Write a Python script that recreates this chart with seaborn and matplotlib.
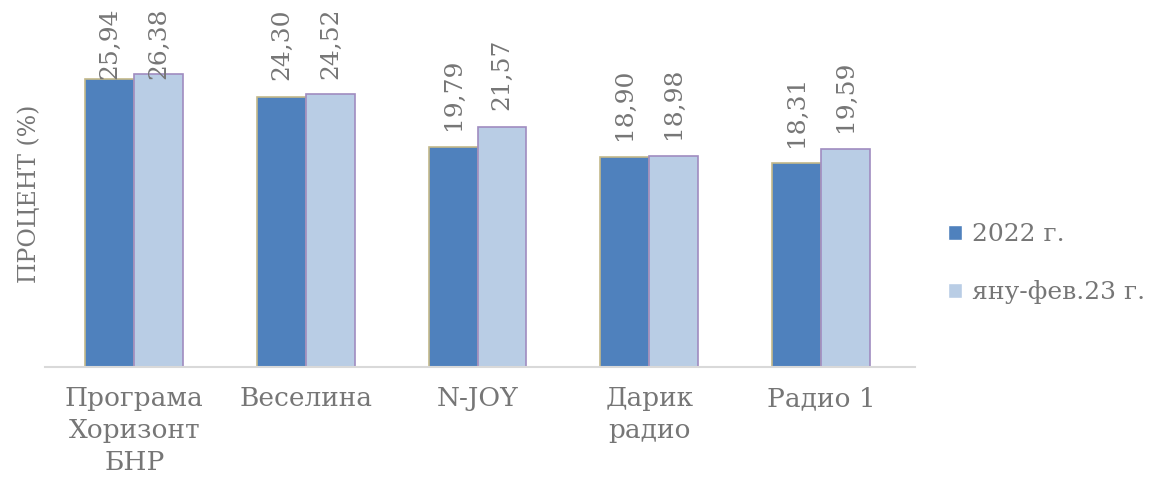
import pandas as pd
import matplotlib.pyplot as plt
import seaborn as sns

stations = ['Програма\nХоризонт\nБНР', 'Веселина', 'N-JOY', 'Дарик\nрадио', 'Радио 1']
series = ['2022 г.', 'яну-фев.23 г.']
values_2022 = [25.94, 24.30, 19.79, 18.90, 18.31]
values_2023 = [26.38, 24.52, 21.57, 18.98, 19.59]

df = pd.DataFrame({
    'station': stations * 2,
    'period': [series[0]] * 5 + [series[1]] * 5,
    'value': values_2022 + values_2023,
})

sns.set_style('white')
plt.rcParams['font.family'] = ['DejaVu Serif']
gray = '#767676'

fig = plt.figure(figsize=(11.61, 4.95), dpi=100)
ax = fig.add_axes([0.0388, 0.2586, 0.7495, 0.674])

sns.barplot(data=df, x='station', y='value', hue='period', order=stations,
            hue_order=series, palette=['#4f81bd', '#b9cde5'], saturation=1,
            width=0.57, ax=ax, legend=True)

# labels sit above the bar, but get pushed down when they would run off the top
edges = ['#c4b98a', '#a08cc0']
for cont, ec in zip(ax.containers, edges):
    for p, v in zip(cont, cont.datavalues):
        p.set_edgecolor(ec)
        p.set_linewidth(1.2)
        y = min(v + 1.5, 25.9)
        ax.text(p.get_x() + p.get_width() / 2, y, f'{v:.2f}'.replace('.', ','),
                rotation=90, ha='center', va='bottom', color=gray, fontsize=18)

ax.set_ylim(0, 30)
ax.set_xlim(-0.52, 4.55)
ax.set_yticks([])
ax.set_xlabel('')
ax.set_ylabel('ПРОЦЕНТ (%)', color=gray, fontsize=17)
ax.yaxis.set_label_coords(-0.005, 0.52)
for s in ['top', 'right', 'left']:
    ax.spines[s].set_visible(False)
ax.spines['bottom'].set_color('#d9d9d9')
ax.spines['bottom'].set_linewidth(1.5)
ax.tick_params(axis='x', length=0, pad=14, labelsize=19, labelcolor=gray)
for t in ax.get_xticklabels():
    t.set_linespacing(1.35)

handles, labels = ax.get_legend_handles_labels()
leg = ax.legend(handles, labels, loc='center left', bbox_to_anchor=(1.012, 0.31),
                frameon=False, fontsize=18, labelcolor=gray, handlelength=0.55,
                handleheight=0.55, handletextpad=0.4, labelspacing=1.35)

fig.savefig('out.png', dpi=100)
